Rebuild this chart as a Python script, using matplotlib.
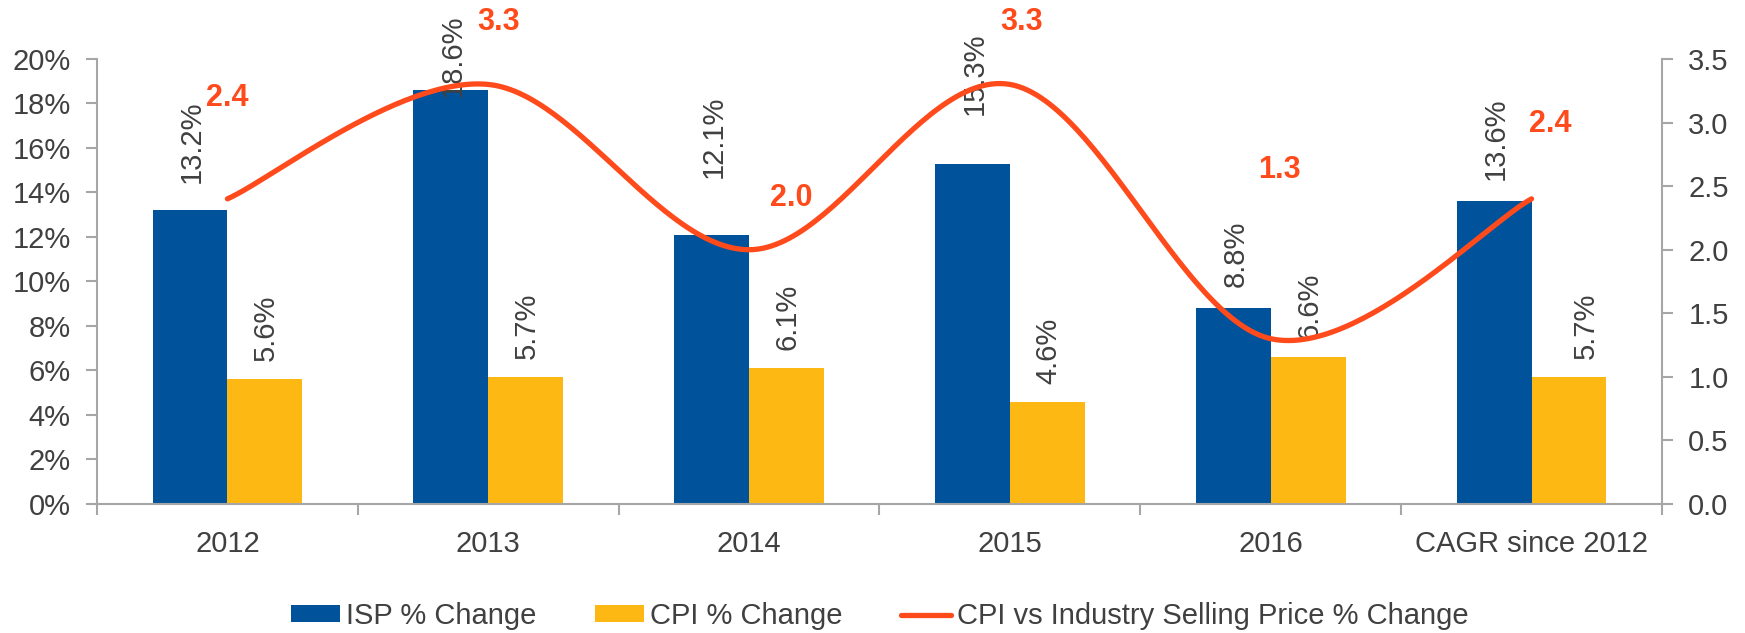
import numpy as np
import matplotlib
matplotlib.use("Agg")
import matplotlib.pyplot as plt
from matplotlib.ticker import FixedLocator, FuncFormatter

# Data
categories = ["2012", "2013", "2014", "2015", "2016", "CAGR since 2012"]
isp_change = [13.2, 18.6, 12.1, 15.3, 8.8, 13.6]
cpi_change = [5.6, 5.7, 6.1, 4.6, 6.6, 5.7]
cpi_vs_isp = [2.4, 3.3, 2.0, 3.3, 1.3, 2.4]

# label placement (left-axis height where blue labels start; offsets in category units)
blue_lab_y = [14.43, 18.29, 14.65, 17.48, 9.75, 14.56]
yellow_dx = [0.0, 0.0, 0.0, 0.0, 0.0, 0.06]
red_dx = [0.0, 0.04, 0.16, 0.045, 0.035, 0.07]
red_y = [3.19, 3.79, 2.41, 3.79, 2.63, 2.99]

BLUE = "#00529B"
YELLOW = "#FDB813"
RED = "#FF4A1C"
GREY = "#A6A6A6"
TXT = "#404040"

plt.rcParams["font.family"] = ["Liberation Sans", "DejaVu Sans"]

fig = plt.figure(figsize=(17.45, 6.33), dpi=100)
ax = fig.add_axes([0.0556, 0.2038, 0.9524 - 0.0556, 0.9068 - 0.2038])
ax2 = ax.twinx()

x = np.arange(len(categories))
w = 0.287

b1 = ax.bar(x - w / 2, isp_change, w, color=BLUE, label="ISP % Change", zorder=2)
b2 = ax.bar(x + w / 2, cpi_change, w, color=YELLOW, label="CPI % Change", zorder=2)

for xi, v, ly in zip(x, isp_change, blue_lab_y):
    ax.text(xi - w / 2 + 0.008, ly, f"{v:.1f}%", rotation=90, ha="center", va="bottom",
            fontsize=21, color=TXT, clip_on=False, zorder=4)
for xi, v, dx in zip(x, cpi_change, yellow_dx):
    ax.annotate(f"{v:.1f}%", (xi + w / 2 + dx, v), xytext=(1, 13), textcoords="offset points",
                rotation=90, ha="center", va="bottom", fontsize=21, color=TXT,
                annotation_clip=False, zorder=4)

ax.set_xlim(-0.5, len(categories) - 0.5)
ax.set_ylim(0, 20)
ax2.set_ylim(0, 3.5)

# smoothed line (Excel style cubic bezier through the points), computed in pixel-like space
sx, sy = 260.8, 445 / 3.5
px = x * sx
py = np.array(cpi_vs_isp) * sy
n = len(px)
cx, cy = [], []
for i in range(n - 1):
    p0 = (px[max(i - 1, 0)], py[max(i - 1, 0)])
    p1 = (px[i], py[i])
    p2 = (px[i + 1], py[i + 1])
    p3 = (px[min(i + 2, n - 1)], py[min(i + 2, n - 1)])
    c1 = (p1[0] + (p2[0] - p0[0]) / 6, p1[1] + (p2[1] - p0[1]) / 6)
    c2 = (p2[0] - (p3[0] - p1[0]) / 6, p2[1] - (p3[1] - p1[1]) / 6)
    t = np.linspace(0, 1, 60)
    bx = (1 - t) ** 3 * p1[0] + 3 * (1 - t) ** 2 * t * c1[0] + 3 * (1 - t) * t ** 2 * c2[0] + t ** 3 * p2[0]
    by = (1 - t) ** 3 * p1[1] + 3 * (1 - t) ** 2 * t * c1[1] + 3 * (1 - t) * t ** 2 * c2[1] + t ** 3 * p2[1]
    cx.extend(bx)
    cy.extend(by)
line, = ax2.plot(np.array(cx) / sx, np.array(cy) / sy, color=RED, lw=3.8,
                 solid_capstyle="round", label="CPI vs Industry Selling Price % Change", zorder=3)

for xi, dx, yv, v in zip(x, red_dx, red_y, cpi_vs_isp):
    ax2.text(xi + dx, yv, f"{v:.1f}", color=RED, fontsize=22, fontweight="bold",
             ha="center", va="center", clip_on=False)

# axes styling
for a in (ax, ax2):
    a.spines["top"].set_visible(False)
    for s in ("left", "right", "bottom"):
        a.spines[s].set_color(GREY)
        a.spines[s].set_linewidth(1.5)
ax.spines["right"].set_visible(False)
ax2.spines["left"].set_visible(False)
ax2.spines["bottom"].set_visible(False)

ax.set_yticks(np.arange(0, 21, 2))
ax.yaxis.set_major_formatter(FuncFormatter(lambda v, p: f"{v:.0f}%"))
ax.tick_params(axis="y", direction="out", length=8, width=1.5, color=GREY,
               labelsize=21, labelcolor=TXT, pad=11)
ax2.set_yticks(np.arange(0, 3.51, 0.5))
ax2.yaxis.set_major_formatter(FuncFormatter(lambda v, p: f"{v:.1f}"))
ax2.tick_params(axis="y", direction="out", length=8, width=1.5, color=GREY,
                labelsize=21, labelcolor=TXT, pad=11)

ax.xaxis.set_major_locator(FixedLocator(np.arange(-0.5, len(categories), 1.0)))
ax.xaxis.set_major_formatter(FuncFormatter(lambda v, p: ""))
ax.xaxis.set_minor_locator(FixedLocator(x))
ax.set_xticklabels(categories, minor=True)
ax.tick_params(axis="x", which="major", direction="out", length=8, width=1.5, color=GREY)
ax.tick_params(axis="x", which="minor", length=0, labelsize=21, labelcolor=TXT, pad=19)

fig.legend(handles=[b1, b2, line], loc="center", bbox_to_anchor=(0.504, 0.027), ncol=3,
           frameon=False, fontsize=21, labelcolor=TXT, handlelength=1.7, handleheight=0.5,
           handletextpad=0.2, columnspacing=2.0)

fig.savefig("out.png", dpi=100)
